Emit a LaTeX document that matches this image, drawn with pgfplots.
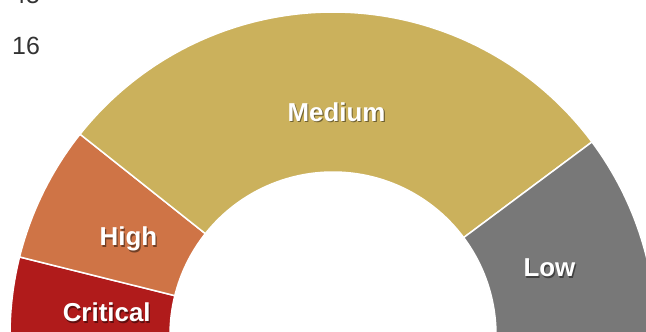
\documentclass[border=0pt]{standalone}
\usepackage{pgfplots}
\pgfplotsset{compat=1.18}
\usepackage{pgfplotstable}
\usetikzlibrary{calc}
\usepackage{fontspec}
\setmainfont{Liberation Sans}
\definecolor{crit}{RGB}{176,27,27}
\definecolor{high}{RGB}{207,116,70}
\definecolor{med}{RGB}{203,177,92}
\definecolor{low}{RGB}{120,120,120}
\definecolor{numtxt}{RGB}{51,51,51}

\pgfplotstableread{
label value color
Critical 16 crit
High 28 high
Medium 120 med
Low 42 low
}\datatable

\begin{document}
\begin{tikzpicture}
\useasboundingbox (0,0) rectangle (646bp,332bp);
\clip (0,0) rectangle (646bp,332bp);
\begin{axis}[
  at={(0,0)}, anchor=south west,
  scale only axis, width=646bp, height=332bp,
  xmin=0, xmax=646, ymin=0, ymax=332,
  hide axis, clip=false,
]
\pgfplotsextra{
  \gdef\segtot{0}
  \pgfplotsforeachungrouped \i in {0,...,3}{%
    \pgfplotstablegetelem{\i}{value}\of\datatable
    \pgfmathsetmacro\tmpsum{\segtot+\pgfplotsretval}%
    \xdef\segtot{\tmpsum}%
  }
  \gdef\segstart{180}
  \pgfplotsforeachungrouped \i in {0,...,3}{%
    \pgfplotstablegetelem{\i}{value}\of\datatable \let\segval\pgfplotsretval
    \pgfplotstablegetelem{\i}{color}\of\datatable \let\segcol\pgfplotsretval
    \pgfplotstablegetelem{\i}{label}\of\datatable \let\seglab\pgfplotsretval
    \pgfmathsetmacro\segstop{\segstart-\segval/\segtot*180}%
    \pgfmathsetmacro\segmid{(\segstart+\segstop)/2}%
    \fill[fill=\segcol, draw=white, line width=1.5bp, line join=round]
      ($(axis cs:333,-3)+(\segstart:323bp)$)
      arc[start angle=\segstart, end angle=\segstop, radius=323bp]
      -- ($(axis cs:333,-3)+(\segstop:163bp)$)
      arc[start angle=\segstop, end angle=\segstart, radius=163bp]
      -- cycle;
    \node[text=black, opacity=0.45, font=\bfseries\fontsize{26}{30}\selectfont]
      at ($(axis cs:333,-3)+(\segmid:228bp)+(1.2bp,-6.5bp)$) {\seglab};
    \node[text=white, font=\bfseries\fontsize{26}{30}\selectfont]
      at ($(axis cs:333,-3)+(\segmid:228bp)+(0bp,-5bp)$) {\seglab};
    \xdef\segstart{\segstop}%
  }
}
\node[anchor=base west, text=numtxt, font=\fontsize{25}{30}\selectfont, inner sep=0pt]
  at (axis cs:12,328) {45};
\node[anchor=base west, text=numtxt, font=\fontsize{25}{30}\selectfont, inner sep=0pt]
  at (axis cs:12,277) {16};
\end{axis}
\end{tikzpicture}
\end{document}
